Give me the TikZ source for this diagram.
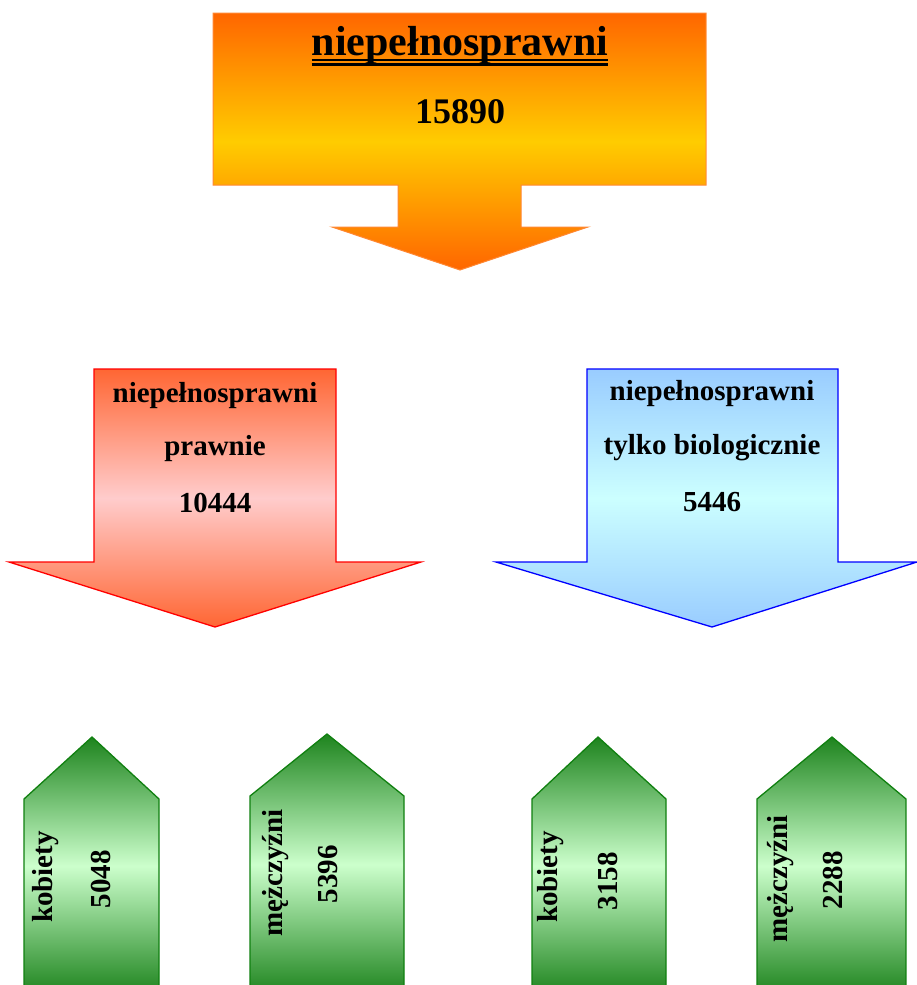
\documentclass[tikz,border=0pt]{standalone}
\usepackage{fontspec}
\setmainfont{Liberation Serif}
\usetikzlibrary{calc}
\definecolor{orTop}{HTML}{FF6600}
\definecolor{orMid}{HTML}{FFCC00}
\definecolor{orLine}{HTML}{FF8833}
\definecolor{rdTop}{HTML}{FF6633}
\definecolor{rdMid}{HTML}{FFCCCC}
\definecolor{blTop}{HTML}{99CCFF}
\definecolor{blMid}{HTML}{CCFFFF}
\definecolor{gnTop}{HTML}{1E841E}
\definecolor{gnMid}{HTML}{CCFFCC}
\definecolor{gnLine}{HTML}{108010}
\tikzset{
  orangearrow/.style={draw=orLine, line width=1pt, top color=orTop, bottom color=orTop, middle color=orMid},
  redarrow/.style={draw=red, line width=1.3pt, top color=rdTop, bottom color=rdTop, middle color=rdMid},
  bluearrow/.style={draw=blue, line width=1.3pt, top color=blTop, bottom color=blTop, middle color=blMid},
  greenarrow/.style={draw=gnLine, line width=1.3pt, top color=gnTop, bottom color=gnTop, middle color=gnMid},
  bigtxt/.style={anchor=base, inner sep=0pt, font=\fontsize{42}{48}\selectfont\bfseries},
  numtxt/.style={anchor=base, inner sep=0pt, font=\fontsize{36}{42}\selectfont\bfseries},
  midtxt/.style={anchor=base, inner sep=0pt, font=\fontsize{29}{35}\selectfont\bfseries},
  rottxt/.style={anchor=base, inner sep=0pt, rotate=90, font=\fontsize{29}{35}\selectfont\bfseries}
}
\begin{document}
\begin{tikzpicture}[x=1pt,y=-1pt]
\useasboundingbox (0,0) rectangle (917,985);
\clip (0,0) rectangle (917,985);
% top arrow
\path[orangearrow] (213,13) -- (706,13) -- (706,185) -- (521,185) -- (521,227) -- (588,227)
  -- (460,270) -- (332,227) -- (398,227) -- (398,185) -- (213,185) -- cycle;
% red arrow
\path[redarrow] (94,369) -- (336,369) -- (336,562) -- (421,562) -- (215,627) -- (9,562) -- (94,562) -- cycle;
% blue arrow
\path[bluearrow] (587,369) -- (838,369) -- (838,562) -- (917,562) -- (712,627) -- (496,562) -- (587,562) -- cycle;
% green arrows
\path[greenarrow] (24,995) -- (24,799) -- (92,737) -- (159,799) -- (159,995) -- cycle;
\path[greenarrow] (250,995) -- (250,796) -- (327,734) -- (404,796) -- (404,995) -- cycle;
\path[greenarrow] (532,995) -- (532,799) -- (598,737) -- (666,799) -- (666,995) -- cycle;
\path[greenarrow] (757,995) -- (757,799) -- (832,737) -- (906,799) -- (906,995) -- cycle;
% top texts
\node[bigtxt] (title) at (460,55) {niepełnosprawni};
\draw[line width=2.5pt] ($(title.base west)+(0,5)$) -- ($(title.base east)+(0,5)$);
\draw[line width=2.5pt] ($(title.base west)+(0,9.5)$) -- ($(title.base east)+(0,9.5)$);
\node[numtxt] (total) at (460,123) {15890};
% red texts
\node[midtxt] (r1) at (215,402) {niepełnosprawni};
\node[midtxt] (r2) at (215,455) {prawnie};
\node[midtxt] (r3) at (215,512) {10444};
% blue texts
\node[midtxt] (b1) at (712,400) {niepełnosprawni};
\node[midtxt] (b2) at (712,454) {tylko biologicznie};
\node[midtxt] (b3) at (712,511) {5446};
% green texts
\node[rottxt] (g1a) at (52,877) {kobiety};
\node[rottxt] (g1b) at (110,879) {5048};
\node[rottxt] (g2a) at (282,873) {mężczyźni};
\node[rottxt] (g2b) at (337,874) {5396};
\node[rottxt] (g3a) at (557,877) {kobiety};
\node[rottxt] (g3b) at (617,881) {3158};
\node[rottxt] (g4a) at (787,879) {mężczyźni};
\node[rottxt] (g4b) at (842,880) {2288};
\end{tikzpicture}
\end{document}
